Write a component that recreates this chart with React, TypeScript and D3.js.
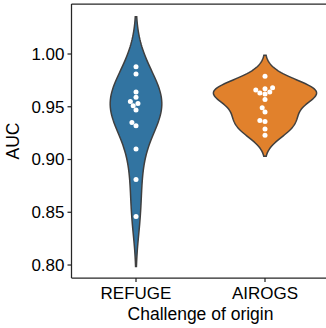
import React from "react";
import * as d3 from "d3";

// AUC per submitted model, grouped by the challenge it came from
const categories = ["REFUGE", "AIROGS"];
const refugeAuc = [0.988, 0.981, 0.964, 0.959, 0.955, 0.953, 0.951, 0.947, 0.935, 0.932, 0.910, 0.881, 0.846];
const airogsAuc = [0.979, 0.968, 0.967, 0.966, 0.964, 0.963, 0.962, 0.957, 0.949, 0.945, 0.937, 0.936, 0.929, 0.923];
const seriesValues = [refugeAuc, airogsAuc];
const fillColors = ["#3274a1", "#e1812c"];
const yTicks = [0.8, 0.85, 0.9, 0.95, 1.0];
const yDomain = [0.7877, 1.0474];
const xTitle = "Challenge of origin";
const yTitle = "AUC";

const W = 326;
const H = 328;
const plot = { left: 71.5, right: 329.5, top: 4, bottom: 278 };
const FONT = "'Liberation Sans', Arial, Helvetica, sans-serif";
const AXIS = "#262626";
const EDGE = "#3f3f3f";
const DOT_R = 2.5;

// Gaussian KDE with Scott's bandwidth, support extended 2 bandwidths past the data
function kde(values: number[]) {
  const n = values.length;
  const sd = d3.deviation(values) as number;
  const bw = sd * Math.pow(n, -0.2);
  const lo = (d3.min(values) as number) - 2 * bw;
  const hi = (d3.max(values) as number) + 2 * bw;
  const grid = d3.range(100).map((i) => lo + ((hi - lo) * i) / 99);
  return grid.map((g) => {
    const dens =
      d3.sum(values, (v) => Math.exp(-0.5 * ((g - v) / bw) ** 2)) /
      (n * bw * Math.sqrt(2 * Math.PI));
    return [g, dens] as [number, number];
  });
}

// Beeswarm layout in pixel space: each point takes the closest free slot to the midline
function swarm(ys: number[], mid: number, r: number) {
  const order = d3.range(ys.length).sort((a, b) => ys[b] - ys[a]); // ascending value = descending px
  const placed: { x: number; y: number }[] = [];
  const out: { x: number; y: number }[] = new Array(ys.length);
  for (const idx of order) {
    const y = ys[idx];
    const neighbors = placed.filter((p) => Math.abs(p.y - y) < 2 * r);
    const cands: number[] = [mid];
    let leftFirst = true;
    for (const nb of neighbors) {
      const dy = y - nb.y;
      const dx = Math.sqrt(Math.max(4 * r * r - dy * dy, 0)) * 1.05;
      const pair = leftFirst ? [nb.x - dx, nb.x + dx] : [nb.x + dx, nb.x - dx];
      cands.push(...pair);
      leftFirst = !leftFirst;
    }
    const sorted = cands
      .map((c, i) => ({ c, i }))
      .sort((a, b) => Math.abs(a.c - mid) - Math.abs(b.c - mid) || a.i - b.i)
      .map((o) => o.c);
    let chosen = sorted[0];
    for (const c of sorted) {
      const ok = neighbors.every((nb) => (c - nb.x) ** 2 + (y - nb.y) ** 2 >= (2 * r) ** 2 - 1e-6);
      if (ok) {
        chosen = c;
        break;
      }
    }
    const p = { x: chosen, y };
    placed.push(p);
    out[idx] = p;
  }
  return out;
}

export default function App() {
  const x = d3.scaleBand<string>().domain(categories).range([plot.left, plot.right]).padding(0);
  const y = d3.scaleLinear().domain(yDomain).range([plot.bottom, plot.top]);
  const step = x.bandwidth();
  const center = (c: string) => (x(c) as number) + step / 2;

  const densities = seriesValues.map(kde);
  const maxDens = d3.max(densities.flat(), (d) => d[1]) as number;
  const fmt = d3.format(".2f");

  return (
    <svg
      width={W}
      height={H}
      style={{ position: "absolute", left: 0, top: 0, background: "#fff" }}
      fontFamily={FONT}
    >
      {categories.map((cat, i) => {
        const cx = center(cat);
        const half = (d: [number, number]) => (d[1] / maxDens) * 0.4 * step;
        const area = d3
          .area<[number, number]>()
          .y((d) => y(d[0]))
          .x0((d) => cx - half(d))
          .x1((d) => cx + half(d));
        const pts = swarm(seriesValues[i].map((v) => y(v)), cx, DOT_R);
        return (
          <g key={cat}>
            <path d={area(densities[i]) as string} fill={fillColors[i]} stroke={EDGE} strokeWidth={1.5} />
            {pts.map((p, j) => (
              <circle key={j} cx={p.x} cy={p.y} r={DOT_R} fill="#ffffff" />
            ))}
          </g>
        );
      })}

      {/* frame: left, bottom and top edges of the plot area */}
      <line x1={plot.left} x2={plot.left} y1={plot.top} y2={plot.bottom} stroke={AXIS} strokeWidth={1.25} />
      <line x1={plot.left} x2={W} y1={plot.bottom} y2={plot.bottom} stroke={AXIS} strokeWidth={1.25} />
      <line x1={plot.left} x2={W} y1={plot.top} y2={plot.top} stroke={AXIS} strokeWidth={1.25} />

      {/* y axis */}
      {yTicks.map((t) => (
        <g key={t} transform={`translate(0,${y(t)})`}>
          <line x1={plot.left - 4} x2={plot.left} stroke={AXIS} strokeWidth={1.25} />
          <text x={plot.left - 7} dy="0.35em" textAnchor="end" fontSize={17} fill="#000">
            {fmt(t)}
          </text>
        </g>
      ))}
      <text
        transform={`translate(19,${(plot.top + plot.bottom) / 2}) rotate(-90)`}
        textAnchor="middle"
        fontSize={17.5}
        fill="#000"
      >
        {yTitle}
      </text>

      {/* x axis */}
      {categories.map((cat) => (
        <g key={cat} transform={`translate(${center(cat)},${plot.bottom})`}>
          <line y1={0} y2={4} stroke={AXIS} strokeWidth={1.25} />
          <text y={20.5} textAnchor="middle" fontSize={17} fill="#000">
            {cat}
          </text>
        </g>
      ))}
      <text x={(plot.left + plot.right) / 2} y={319.5} textAnchor="middle" fontSize={17.5} fill="#000">
        {xTitle}
      </text>
    </svg>
  );
}
